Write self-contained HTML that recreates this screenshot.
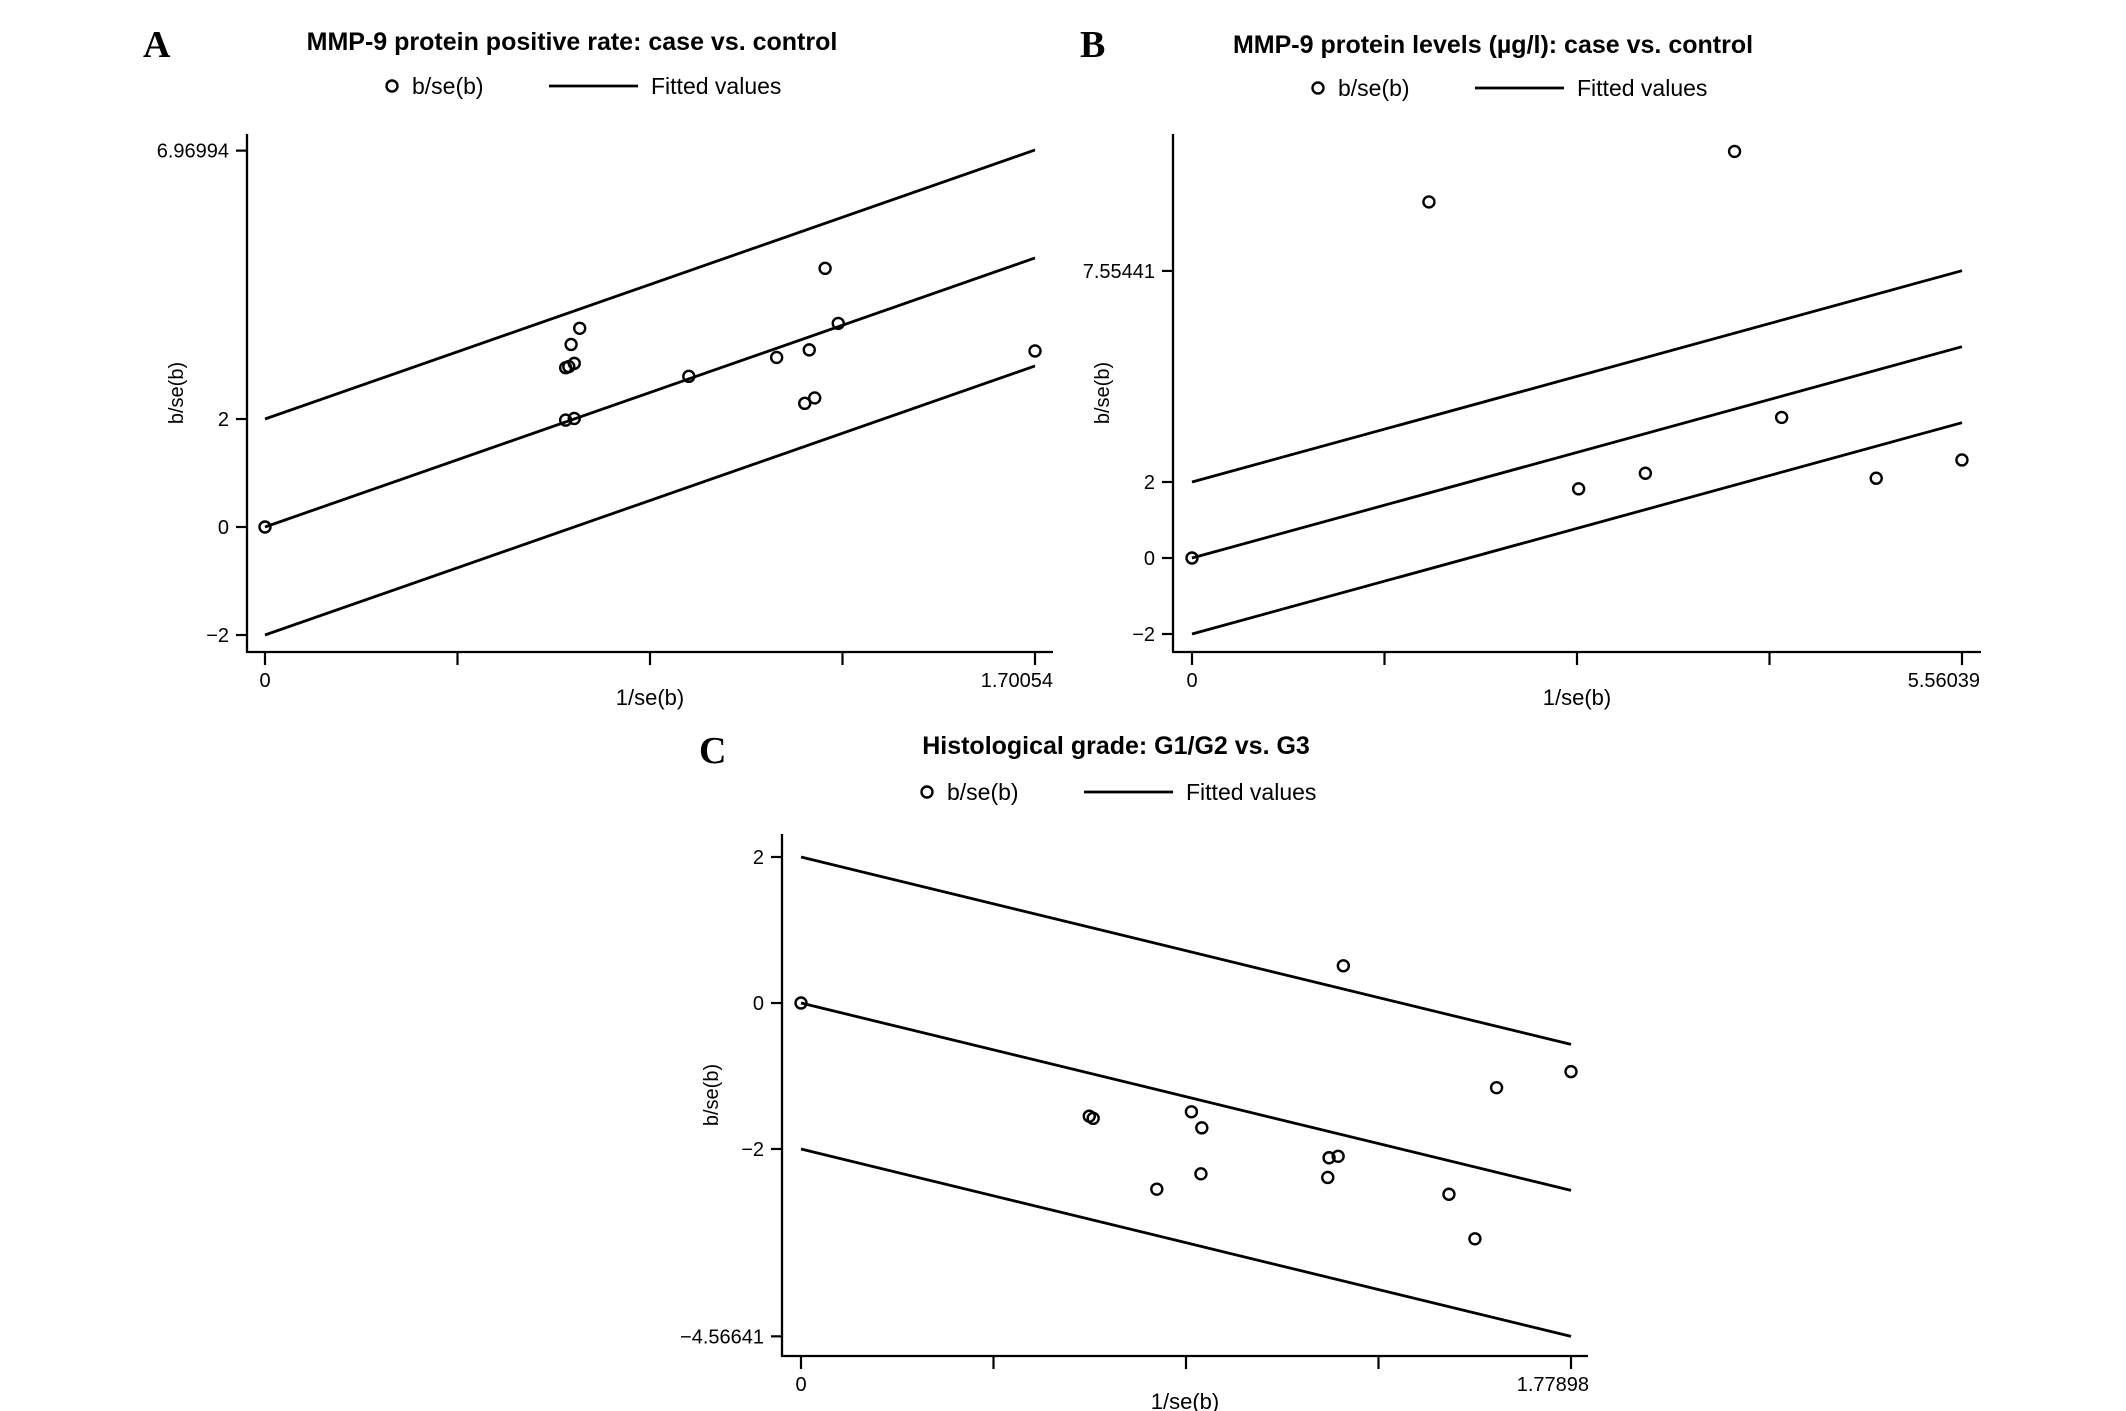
<!DOCTYPE html>
<html><head><meta charset="utf-8"><style>
html,body{margin:0;padding:0;background:#fff;}
svg{display:block;}
text{font-family:"Liberation Sans Narrow","Liberation Sans",sans-serif;fill:#000;}
</style></head><body>
<svg id="fig" width="2126" height="1411" viewBox="0 0 2126 1411" xmlns="http://www.w3.org/2000/svg"></svg>
<script>
// Panel A data
const aX = [0, 0.664, 0.671, 0.683, 0.676, 0.695, 0.664, 0.683, 0.936, 1.130, 1.202, 1.237, 1.266, 1.192, 1.214, 1.70054];
const aY = [0, 2.95, 2.97, 3.03, 3.38, 3.68, 1.98, 2.01, 2.79, 3.14, 3.28, 4.79, 3.77, 2.29, 2.39, 3.26];
const aSlope = 2.93;
const aYTicks = [-2, 0, 2, 6.96994];
const aYTickLabels = ["\u22122", "0", "2", "6.96994"];
// Panel B data
const bX = [0, 1.711, 3.918, 2.792, 3.274, 4.258, 4.941, 5.560];
const bY = [0, 9.37, 10.70, 1.82, 2.23, 3.70, 2.10, 2.58];
const bSlope = 1.0;
const bYTicks = [-2, 0, 2, 7.55441];
const bYTickLabels = ["\u22122", "0", "2", "7.55441"];
// Panel C data
const cX = [0, 1.253, 0.666, 0.675, 0.902, 0.926, 0.924, 0.822, 1.220, 1.241, 1.217, 1.497, 1.557, 1.607, 1.779];
const cY = [0, 0.51, -1.55, -1.58, -1.49, -1.71, -2.34, -2.55, -2.12, -2.10, -2.39, -2.62, -3.23, -1.16, -0.94];
const cSlope = -1.443;
const cYTicks = [-4.56641, -2, 0, 2];
const cYTickLabels = ["\u22124.56641", "\u22122", "0", "2"];

const svg = document.getElementById('fig');
const NS = 'http://www.w3.org/2000/svg';
function mk(tag, attrs, parent) {
  const e = document.createElementNS(NS, tag);
  for (const k in attrs) e.setAttribute(k, attrs[k]);
  (parent || svg).appendChild(e);
  return e;
}

function panel(cfg) {
  const g = mk('g', {});
  
  
  const sx = v => cfg.x0 + (v - 0) / cfg.xMax * (cfg.x1 - cfg.x0);
  const sy = v => cfg.y0 + (v - cfg.yA) / (cfg.yB - cfg.yA) * (cfg.yB_px - cfg.y0);

  const L = mk('text', {x: cfg.letterX, y: cfg.letterY, 'font-size': 38, 'font-weight': 'bold', style: 'font-family:"Liberation Serif",serif'}, g);
  L.textContent = cfg.id.toUpperCase();
  
  
  const T = mk('text', {x: cfg.titleX, y: cfg.titleY, 'font-size': 25, 'font-weight': 'bold', 'text-anchor': 'middle'}, g);
  T.textContent = cfg.title;
  
  
  const lg = mk('g', {}, g);
  
  
  const lc = mk('circle', {cx: cfg.legX, cy: cfg.legY, r: 5.5, fill: 'none', stroke: '#000', 'stroke-width': 2.4}, lg);
  
  
  const lt1 = mk('text', {x: cfg.legX + 20, y: cfg.legY + 8, 'font-size': 23}, lg);
  lt1.textContent = 'b/se(b)';
  
  
  const ll = mk('line', {x1: cfg.legX + 157, y1: cfg.legY, x2: cfg.legX + 246, y2: cfg.legY, stroke: '#000', 'stroke-width': 2.8}, lg);
  
  
  const lt2 = mk('text', {x: cfg.legX + 259, y: cfg.legY + 8, 'font-size': 23}, lg);
  lt2.textContent = 'Fitted values';
  
  

  const ya = mk('line', {x1: cfg.axL, y1: cfg.axTop, x2: cfg.axL, y2: cfg.axB, stroke: '#000', 'stroke-width': 2.3}, g);
  
  
  const xa = mk('line', {x1: cfg.axL - 1, y1: cfg.axB, x2: cfg.axR, y2: cfg.axB, stroke: '#000', 'stroke-width': 2.3}, g);
  
  
  for (let i = 0; i <= 4; i++) {
    const xv = cfg.xMax * i / 4;
    const t = mk('line', {x1: sx(xv), y1: cfg.axB, x2: sx(xv), y2: cfg.axB + 13, stroke: '#000', 'stroke-width': 2.2}, g);
    
    
  }
  const xl0 = mk('text', {x: sx(0), y: cfg.axB + 35, 'font-size': 20, 'text-anchor': 'middle'}, g);
  xl0.textContent = '0';
  
  
  const xl1 = mk('text', {x: sx(cfg.xMax) + 18, y: cfg.axB + 35, 'font-size': 20, 'text-anchor': 'end'}, g);
  xl1.textContent = cfg.xMaxLabel;
  
  
  const xt = mk('text', {x: (cfg.axL + cfg.axR) / 2, y: cfg.axB + 53, 'font-size': 22, 'text-anchor': 'middle'}, g);
  xt.textContent = '1/se(b)';
  
  
  cfg.yTicks.forEach((v, i) => {
    const t = mk('line', {x1: cfg.axL - 11, y1: sy(v), x2: cfg.axL, y2: sy(v), stroke: '#000', 'stroke-width': 2.2}, g);
    
    
    const tl = mk('text', {x: cfg.axL - 18, y: sy(v) + 7, 'font-size': 20, 'text-anchor': 'end'}, g);
    tl.textContent = cfg.yTickLabels[i];
    
    
  });
  const yt = mk('text', {x: 0, y: 0, 'font-size': 20, 'text-anchor': 'middle', transform: 'translate(' + (cfg.axL - 64) + ',' + ((cfg.axTop + cfg.axB) / 2) + ') rotate(-90)', style: 'font-family:"Liberation Sans",sans-serif'}, g);
  yt.textContent = 'b/se(b)';
  
  

  [2, 0, -2].forEach((off, i) => {
    const l = mk('line', {x1: sx(0), y1: sy(off), x2: sx(cfg.xMax), y2: sy(off + cfg.slope * cfg.xMax), stroke: '#000', 'stroke-width': 2.8}, g);
    
    
  });
  cfg.xs.forEach((xv, i) => {
    const c = mk('circle', {cx: sx(xv), cy: sy(cfg.ys[i]), r: 5.5, fill: 'none', stroke: '#000', 'stroke-width': 2.4}, g);
    
    
  });
}

panel({id: 'a', title: 'MMP-9 protein positive rate:  case  vs. control', titleX: 572, titleY: 50,
  letterX: 143, letterY: 57, legX: 392, legY: 86,
  axL: 247, axR: 1053, axTop: 134, axB: 652,
  x0: 265, x1: 1035, xMax: 1.70054, xMaxLabel: '1.70054',
  yA: 0, y0: 527, yB: 2, yB_px: 419,
  yTicks: aYTicks, yTickLabels: aYTickLabels, slope: aSlope, xs: aX, ys: aY});

panel({id: 'b', title: 'MMP-9 protein levels (\u00b5g/l):  case  vs. control', titleX: 1493, titleY: 53,
  letterX: 1080, letterY: 57, legX: 1318, legY: 88,
  axL: 1173, axR: 1981, axTop: 134, axB: 652,
  x0: 1192, x1: 1962, xMax: 5.56039, xMaxLabel: '5.56039',
  yA: 0, y0: 558, yB: 2, yB_px: 482,
  yTicks: bYTicks, yTickLabels: bYTickLabels, slope: bSlope, xs: bX, ys: bY});

panel({id: 'c', title: 'Histological grade: G1/G2 vs. G3', titleX: 1116, titleY: 754,
  letterX: 699, letterY: 763, legX: 927, legY: 792,
  axL: 782, axR: 1588, axTop: 834, axB: 1356,
  x0: 801, x1: 1571, xMax: 1.77898, xMaxLabel: '1.77898',
  yA: 0, y0: 1003, yB: 2, yB_px: 857,
  yTicks: cYTicks, yTickLabels: cYTickLabels, slope: cSlope, xs: cX, ys: cY});
</script>
</body></html>
